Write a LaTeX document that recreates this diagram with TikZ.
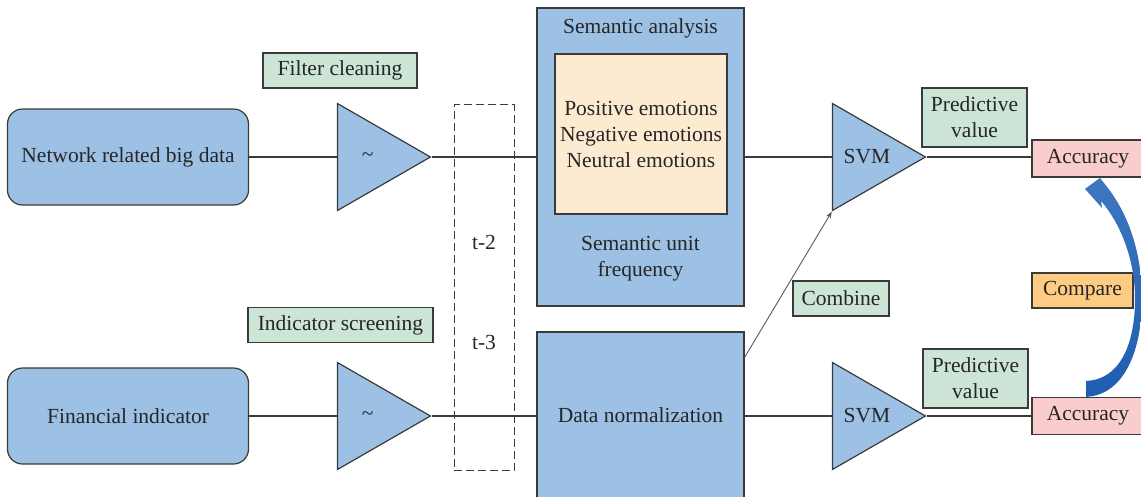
\documentclass[tikz,border=0pt]{standalone}
\usepackage{fontspec}
\setmainfont{Liberation Serif}
\usepackage{xcolor}
\usepackage{tikz}
\definecolor{boxblue}{RGB}{157,192,229}
\definecolor{notegreen}{RGB}{204,229,214}
\definecolor{emobeige}{RGB}{253,235,209}
\definecolor{accpink}{RGB}{249,205,204}
\definecolor{cmporange}{RGB}{253,203,130}
\definecolor{cmptop}{RGB}{62,118,192}
\definecolor{cmpbot}{RGB}{30,94,176}
\definecolor{edgegray}{RGB}{58,58,58}
\usetikzlibrary{shapes.geometric, arrows.meta, positioning, calc}

\begin{document}
\begin{tikzpicture}[x=1pt, y=-1pt,
    every node/.style={font=\fontsize{21.5}{26}\selectfont, text=black!85},
    source/.style={rectangle, draw=edgegray, line width=1.2pt, fill=boxblue, rounded corners=15pt, minimum width=241pt, minimum height=96pt, align=center},
    tri/.style={isosceles triangle, isosceles triangle stretches, shape border rotate=0, draw=edgegray, line width=1.2pt, fill=boxblue, minimum width=107pt, minimum height=93pt, inner sep=0pt},
    stage/.style={rectangle, draw=edgegray, line width=1.2pt, fill=boxblue, minimum width=207pt, align=center},
    note/.style={rectangle, draw=edgegray, line width=1.2pt, fill=notegreen, minimum height=35pt, inner sep=0pt, align=center},
    acc/.style={rectangle, draw=edgegray, line width=1.2pt, fill=accpink, minimum width=112pt, minimum height=37pt, inner sep=0pt},
    link/.style={draw=edgegray, line width=1.1pt},
    arrow/.style={-{Stealth[length=7pt, width=5pt]}, draw=black!65, line width=0.9pt}
]
    \useasboundingbox (0,0) rectangle (1141,496);

    % Inputs
    \node[source] (net) at (128, 157) {Network related big data};
    \node[source] (fin) at (128, 416) {Financial indicator};

    % Preprocessing
    \node[note, minimum width=154pt] (filt) at (340, 70.5) {Filter cleaning};
    \node[note, minimum width=185pt] (screen) at (340.5, 325) {Indicator screening};
    \node[tri, anchor=apex] (tri1) at (432, 157) {\textasciitilde};
    \node[tri, anchor=apex] (tri2) at (432, 416) {\textasciitilde};

    % Time lags
    \node[rectangle, draw=edgegray, line width=1pt, dash pattern=on 8pt off 4pt, minimum width=60pt, minimum height=366pt] (lag) at (484, 287.5) {};
    \node (t2) at (484, 242) {t-2};
    \node (t3) at (484, 342) {t-3};

    % Semantic analysis and normalization
    \node[stage, minimum height=298pt] (sem) at (640.5, 157) {};
    \node (semtitle) at (640.5, 28) {Semantic analysis};
    \node[rectangle, draw=edgegray, line width=1.2pt, fill=emobeige, minimum width=172pt, minimum height=160pt, align=center] (emo) at (641, 134) {Positive emotions\\Negative emotions\\Neutral emotions};
    \node[align=center] (freq) at (640.5, 259) {Semantic unit\\frequency};
    \node[stage, minimum height=166pt] (norm) at (640.5, 415) {Data normalization};

    % Classifiers
    \node[tri, anchor=apex] (svm1) at (927, 157) {SVM};
    \node[tri, anchor=apex] (svm2) at (927, 416) {SVM};
    \node[note, minimum width=105pt, minimum height=59pt] (pred1) at (974.5, 117.5) {Predictive\\value};
    \node[note, minimum width=105pt, minimum height=59pt] (pred2) at (975.5, 378.5) {Predictive\\value};
    \node[note, minimum width=96pt] (comb) at (841, 298.5) {Combine};

    % Results
    \node[acc] (acc1) at (1088, 158.5) {Accuracy};
    \node[acc] (acc2) at (1088, 416) {Accuracy};
    \node[note, fill=cmporange, minimum width=101pt] (cmp) at (1082.5, 290.5) {Compare};

    % Links
    \draw[link] (net.east) -- (net.east -| tri1.lower side);
    \draw[link] (tri1.apex) -- (tri1.apex -| sem.west);
    \draw[link] (tri1.apex -| sem.east) -- (svm1.lower side);
    \draw[link] (svm1.apex) -- (svm1.apex -| acc1.west);
    \draw[link] (fin.east) -- (fin.east -| tri2.lower side);
    \draw[link] (tri2.apex) -- (tri2.apex -| norm.west);
    \draw[link] (tri2.apex -| norm.east) -- (svm2.lower side);
    \draw[link] (svm2.apex) -- (svm2.apex -| acc2.west);
    \draw[arrow] ($(norm.north east)+(0,26)$) -- (svm1.right corner);

    % Compare arrow
    \begin{scope}[shift={(acc2.north)}]
        \shade[top color=cmptop, bottom color=cmpbot] (-2,0) -- (-2,-16) .. controls (32,-17) and (47,-53) .. (47,-98)
            .. controls (47,-138) and (32,-174) .. (13,-196) -- (14,-189) -- (-3,-208)
            -- (12,-219) -- (19,-210) .. controls (38,-186) and (54,-148) .. (54,-98)
            .. controls (54,-48) and (37,-2) .. (-2,0) -- cycle;
    \end{scope}
\end{tikzpicture}
\end{document}
